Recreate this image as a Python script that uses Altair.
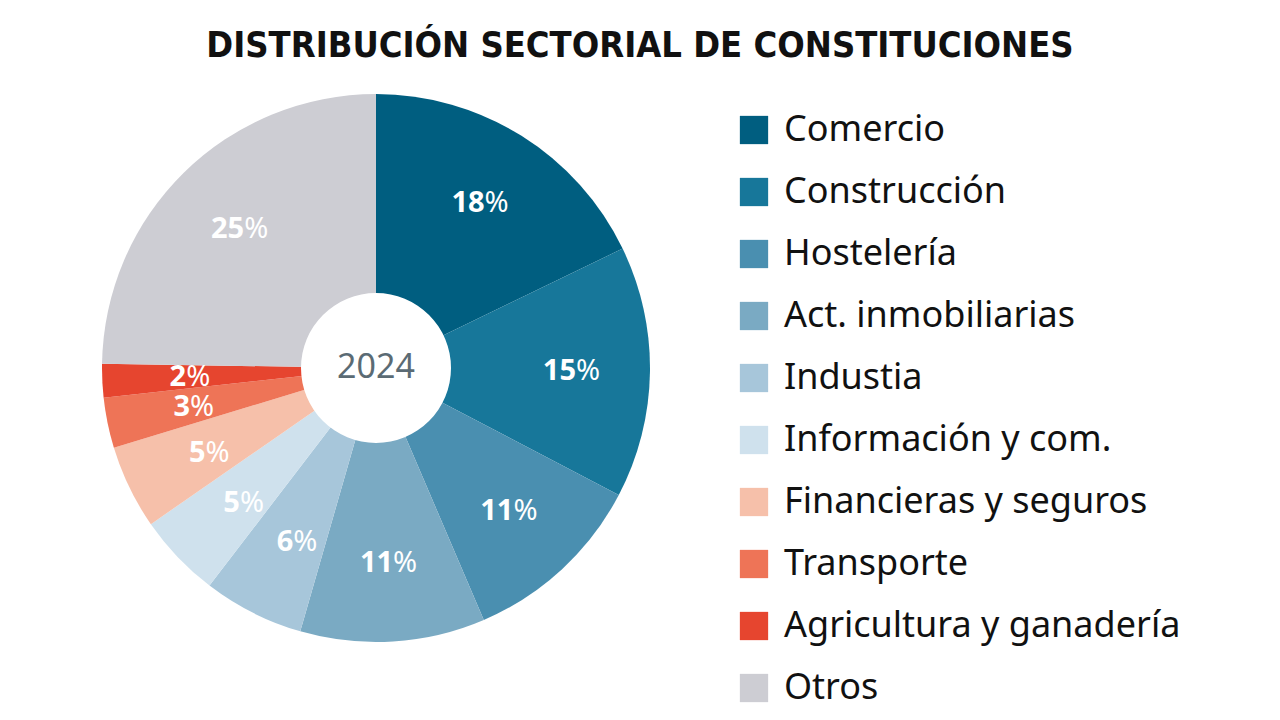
import altair as alt
import pandas as pd

sectores = ["Comercio", "Construcción", "Hostelería", "Act. inmobiliarias", "Industia",
            "Información y com.", "Financieras y seguros", "Transporte",
            "Agricultura y ganadería", "Otros"]
valores = [18, 15, 11, 11, 6, 5, 5, 3, 2, 25]
colores = ["#005e80", "#17779a", "#4a8fb0", "#7aaac3", "#a7c6da", "#cfe1ed",
           "#f6c0aa", "#ee7457", "#e6452f", "#cdcdd3"]

df = pd.DataFrame({
    "sector": sectores,
    "valor": valores,
    "orden": list(range(len(sectores))),
    "num": [str(v) for v in valores],
    "pct": ["%"] * len(valores),
})

CX, CY = 376, 368

color = alt.Color(
    "sector:N",
    scale=alt.Scale(domain=sectores, range=colores),
    sort=sectores,
    legend=alt.Legend(
        title=None, orient="none", legendX=736, legendY=112,
        symbolType="square", symbolSize=800, symbolStrokeWidth=0,
        labelFont="Noto Sans", labelFontSize=36, labelColor="#111111",
        labelOffset=12, rowPadding=26, labelLimit=600,
    ),
)

base = alt.Chart(df).encode(
    theta=alt.Theta("valor:Q", stack=True),
    order=alt.Order("orden:Q"),
)

arcs = base.mark_arc(outerRadius=274, innerRadius=0, x=CX, y=CY).encode(color=color)

hole = alt.Chart(pd.DataFrame({"t": ["2024"]})).mark_arc(
    outerRadius=75, innerRadius=0, color="white", x=CX, y=CY
).encode(theta=alt.value(6.2832))

centro = alt.Chart(pd.DataFrame({"t": ["2024"]})).mark_text(
    font="Noto Sans", fontSize=34, color="#5b6b74", align="center", baseline="middle"
).encode(text="t:N", x=alt.value(CX), y=alt.value(CY))

num = base.mark_text(
    radius=195, x=CX, y=CY, font="Noto Sans", fontWeight="bold", fontSize=29,
    color="white", align="right", baseline="middle", dx=5
).encode(text="num:N")

pct = base.mark_text(
    radius=195, x=CX, y=CY, font="Noto Sans", fontSize=29,
    color="white", align="left", baseline="middle", dx=5
).encode(text="pct:N")

titulo = alt.Chart(pd.DataFrame({"t": ["DISTRIBUCIÓN SECTORIAL DE CONSTITUCIONES"]})).mark_text(
    font="DejaVu Sans Condensed", fontWeight="bold", fontSize=36, color="#111111",
    align="center", baseline="middle"
).encode(text="t:N", x=alt.value(640), y=alt.value(46))

chart = alt.layer(arcs, hole, centro, num, pct, titulo).properties(
    width=1280, height=720, autosize=alt.AutoSizeParams(type="none"), padding=0,
    background="white"
).configure_view(stroke=None)

chart.save("out.html", embed_options={"renderer": "svg", "actions": False})
